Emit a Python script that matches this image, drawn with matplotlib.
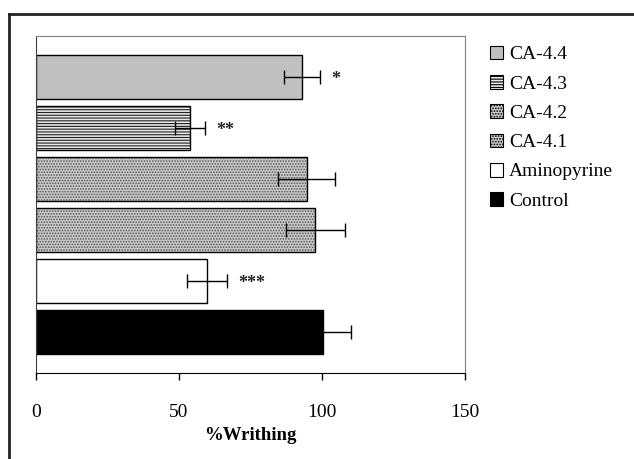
import numpy as np
import matplotlib.pyplot as plt
from matplotlib.lines import Line2D

plt.rcParams['font.family'] = ['Liberation Serif', 'DejaVu Serif']
plt.rcParams['hatch.linewidth'] = 0.8

groups = ['CA-4.4', 'CA-4.3', 'CA-4.2', 'CA-4.1', 'Aminopyrine', 'Control']
writhing = [93.0, 53.8, 94.6, 97.6, 59.7, 100.5]
err = [6.3, 5.3, 10.0, 10.3, 7.0, 9.5]
stars = ['*', '**', '', '', '***', '']

faces = ['#c0c0c0', '#e8e8e8', '#c8c8c8', '#c8c8c8', 'white', 'black']
hatches = [None, '------', '......', '......', None, None]
hcols = ['#c0c0c0', '#202020', '#555555', '#555555', 'white', 'black']

fig = plt.figure(figsize=(6.34, 4.59), dpi=100)
ax = fig.add_axes([36/634, 1-373/459, (465-36)/634, (373-36)/459])

pos = np.arange(len(groups))[::-1]
handles = []
for i in range(len(groups)):
    # hatch drawn in its own colour, then a black outline on top
    ax.barh(pos[i], writhing[i], height=0.85, color=faces[i], hatch=hatches[i],
            edgecolor=hcols[i], linewidth=0)
    ax.barh(pos[i], writhing[i], height=0.85, fill=False, edgecolor='black',
            linewidth=1.0)
    ax.errorbar(writhing[i], pos[i], xerr=err[i], fmt='none', ecolor='black',
                elinewidth=1.0, capsize=5, capthick=1.0)
    if stars[i]:
        # asterisks sit high in the glyph box, so nudge them down
        ax.text(writhing[i] + err[i] + 4, pos[i] - 0.05, stars[i], ha='left',
                va='center', fontsize=13, fontweight='bold', color='#222222')
    h = plt.Rectangle((0, 0), 1, 1, facecolor=faces[i], hatch=hatches[i],
                      edgecolor='black', linewidth=0.8)
    handles.append(h)

ax.set_xlim(0, 150)
ax.set_ylim(-0.8, 5.8)
ax.set_xticks([0, 50, 100, 150])
ax.set_yticks([])
ax.tick_params(axis='x', direction='out', length=5, width=1, labelsize=14, pad=17)
ax.set_xlabel('%Writhing', fontsize=13.5, fontweight='bold', labelpad=5)
for s in ['top', 'right']:
    ax.spines[s].set_color('#808080')
ax.spines['left'].set_color('#404040')
ax.spines['bottom'].set_color('black')

ax.legend(handles, groups, loc='upper left', bbox_to_anchor=(482/634, 1-38/459),
          bbox_transform=fig.transFigure, frameon=False, fontsize=14,
          handlelength=0.7, handleheight=0.7, handletextpad=0.3,
          labelspacing=0.6, borderaxespad=0)

# outer frame (only left and top edges visible)
fig.add_artist(Line2D([9/634, 9/634], [0, 1-14/459], color='#222222', lw=2))
fig.add_artist(Line2D([9/634, 1], [1-14/459, 1-14/459], color='#222222', lw=2))

fig.savefig('out.png', dpi=100)
